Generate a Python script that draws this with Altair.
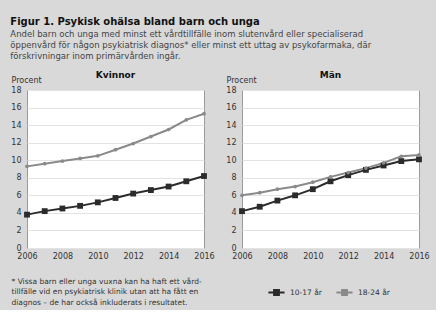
import altair as alt
import pandas as pd

years = list(range(2006, 2017))
kvinnor_10_17 = [3.8, 4.2, 4.5, 4.8, 5.2, 5.7, 6.2, 6.6, 7.0, 7.6, 8.2]
kvinnor_18_24 = [9.3, 9.6, 9.9, 10.2, 10.5, 11.2, 11.9, 12.7, 13.5, 14.6, 15.3]
man_10_17 = [4.2, 4.7, 5.4, 6.0, 6.7, 7.6, 8.3, 8.9, 9.4, 9.9, 10.1]
man_18_24 = [6.0, 6.3, 6.7, 7.0, 7.5, 8.1, 8.6, 9.1, 9.7, 10.45, 10.6]
groups = ["10-17 år", "18-24 år"]
colors = ["#2b2b2b", "#8a8a8a"]
y_ticks = list(range(0, 19, 2))
x_labels = list(range(2006, 2017, 2))

title_text = "Figur 1. Psykisk ohälsa bland barn och unga"
subtitle_lines = [
    "Andel barn och unga med minst ett vårdtillfälle inom slutenvård eller specialiserad",
    "öppenvård för någon psykiatrisk diagnos* eller minst ett uttag av psykofarmaka, där",
    "förskrivningar inom primärvården ingår.",
]
footnote_lines = [
    "* Vissa barn eller unga vuxna kan ha haft ett vård-",
    "tillfälle vid en psykiatrisk klinik utan att ha fått en",
    "diagnos – de har också inkluderats i resultatet.",
]

FONT = "DejaVu Sans"


def make_df(a, b):
    rows = []
    for y, v in zip(years, a):
        rows.append({"year": y, "value": v, "group": groups[0]})
    for y, v in zip(years, b):
        rows.append({"year": y, "value": v, "group": groups[1]})
    return pd.DataFrame(rows)


LEGEND = alt.Legend(
    title=None,
    orient="none",
    direction="horizontal",
    legendX=240,
    legendY=193,
    symbolType="M-1,0H1M-0.3,-0.3H0.3V0.3H-0.3Z",
    symbolSize=260,
    symbolStrokeWidth=2,
    labelFontSize=7.5,
    labelColor="#333",
    columnPadding=10,
)


def panel(df, title, show_foot):
    x = alt.X(
        "year:Q",
        scale=alt.Scale(domain=[2006, 2016], nice=False, zero=False),
        axis=alt.Axis(
            values=x_labels,
            format="d",
            grid=False,
            ticks=False,
            domain=False,
            labelFlush=False,
            labelPadding=4,
            labelFontSize=8,
            labelColor="#333",
            title=footnote_lines if show_foot else None,
            titleFontWeight="normal",
            titleFontSize=7.5,
            titleColor="#333",
            titleAlign="left",
            titleAnchor="start",
            titleX=-16,
            titleY=29,
            titleLineHeight=10.5,
        ),
    )
    y = alt.Y(
        "value:Q",
        scale=alt.Scale(domain=[0, 18], nice=False),
        axis=alt.Axis(
            values=y_ticks,
            grid=True,
            gridColor="#e3e3e3",
            ticks=False,
            domain=False,
            labelPadding=6,
            labelFontSize=8,
            labelColor="#333",
            title="Procent",
            titleAngle=0,
            titleAlign="left",
            titleBaseline="bottom",
            titleFontWeight="normal",
            titleFontSize=8,
            titleColor="#333",
            titleX=-16,
            titleY=-6,
        ),
    )
    color = alt.Color("group:N", scale=alt.Scale(domain=groups, range=colors), legend=LEGEND)
    line = alt.Chart(df).mark_line(strokeWidth=2).encode(x=x, y=y, color=color)
    sq = (
        alt.Chart(df)
        .transform_filter(alt.datum.group == groups[0])
        .mark_point(filled=True, opacity=1, shape="square", size=34)
        .encode(x=x, y=y, color=color)
    )
    ci = (
        alt.Chart(df)
        .transform_filter(alt.datum.group == groups[1])
        .mark_point(filled=True, opacity=1, shape="circle", size=14)
        .encode(x=x, y=y, color=color)
    )
    return (line + sq + ci).properties(
        width=177,
        height=158,
        title=alt.TitleParams(
            title, fontSize=9, fontWeight="bold", color="#111", offset=-4, font=FONT
        ),
    )


left = panel(make_df(kvinnor_10_17, kvinnor_18_24), "Kvinnor", True)
right = panel(make_df(man_10_17, man_18_24), "Män", False)

chart = (
    alt.hconcat(left, right, spacing=10)
    .properties(
        background="#d9d9d9",
        padding={"left": 10, "top": 17, "right": 6, "bottom": 4},
        title=alt.TitleParams(
            title_text,
            subtitle=subtitle_lines,
            anchor="start",
            fontSize=10,
            fontWeight="bold",
            color="#111",
            subtitleFontSize=8.5,
            subtitleColor="#444",
            subtitleLineHeight=11,
            subtitlePadding=3,
            offset=10,
            font=FONT,
            subtitleFont=FONT,
        ),
    )
    .configure(font=FONT)
    .configure_view(fill="white", stroke="#9a9a9a", strokeWidth=1)
)

chart.save("out.html", embed_options={"renderer": "svg", "actions": False})
